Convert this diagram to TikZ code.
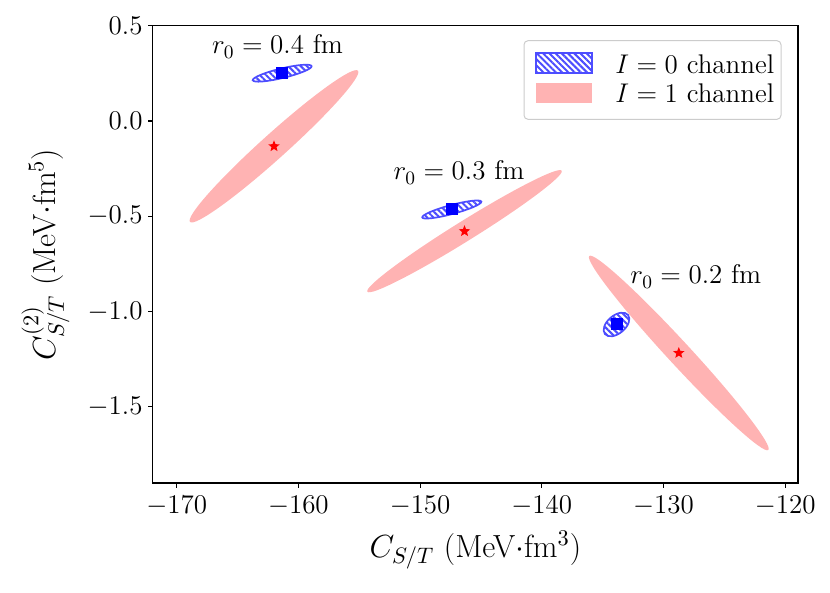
\documentclass[tikz,border=0pt]{standalone}
\usepackage{fix-cm}
\usetikzlibrary{shapes.geometric,patterns.meta}

\definecolor{pinkfill}{RGB}{255,179,179}
\definecolor{bluehatch}{RGB}{77,77,255}
\definecolor{legendgrey}{RGB}{204,204,204}

\tikzset{
  ticklabel/.style={font=\fontsize{13.5}{16}\selectfont, inner sep=0pt},
  annot/.style={font=\fontsize{13.5}{16}\selectfont, inner sep=0pt},
  axislabel/.style={font=\fontsize{16}{19}\selectfont, inner sep=0pt},
  redell/.style={fill=pinkfill},
  blueell/.style={draw=bluehatch, line width=0.85pt,
    pattern={Lines[angle=-45,distance=2.2pt,line width=1pt]}, pattern color=bluehatch},
  starmark/.style={star, star points=5, star point ratio=2.3, fill=red, draw=none,
    inner sep=0pt, minimum size=6pt},
  sqmark/.style={rectangle, fill=blue, draw=none, inner sep=0pt, minimum size=6pt}
}

\begin{document}
\begin{tikzpicture}[x=0.5pt,y=0.5pt]
    \useasboundingbox (0,0) rectangle (830,-593);

    % Mittelpunkte
    \coordinate (R1) at (274,-146.3);
    \coordinate (R2) at (464.5,-231.2);
    \coordinate (R3) at (678.8,-353);
    \coordinate (B1) at (282.2,-73.2);
    \coordinate (B2) at (451.8,-209.5);
    \coordinate (B3) at (616.5,-324.5);

    % Ellipsen I=1
    \fill[redell, rotate around={42:(R1)}] (R1) ellipse (113 and 12.5);
    \fill[redell, rotate around={31.9:(R2)}] (R2) ellipse (114.5 and 10);
    \fill[redell, rotate around={-47.3:(R3)}] (R3) ellipse (132 and 11.5);

    % Ellipsen I=0
    \draw[blueell, rotate around={13.5:(B1)}] (B1) ellipse (30.3 and 4.8);
    \draw[blueell, rotate around={15:(B2)}] (B2) ellipse (30.6 and 4.5);
    \draw[blueell, rotate around={40:(B3)}] (B3) ellipse (15 and 9);

    % Marker
    \node[starmark] (s1) at (R1) {};
    \node[starmark] (s2) at (R2) {};
    \node[starmark] (s3) at (R3) {};
    \node[sqmark] (q1) at (B1) {};
    \node[sqmark] (q2) at (B2) {};
    \node[sqmark] (q3) at (B3) {};

    % Beschriftung
    \node[annot, anchor=base] (r04) at (277.5,-54) {$r_0 = 0.4$ fm};
    \node[annot, anchor=base] (r03) at (459,-180) {$r_0 = 0.3$ fm};
    \node[annot, anchor=base] (r02) at (695.8,-284) {$r_0 = 0.2$ fm};

    % Achsen
    \draw[line width=0.7pt] (152.7,-25.7) rectangle (798,-483);
    \foreach \v in {-170,-160,...,-120}
        \draw[line width=0.6pt] ({176.7+(\v+170)*12.17},-483) -- ++(0,-5)
            node[ticklabel, below=3.5pt] {$\v$};
    \foreach \v/\t in {0.5/0.5,0/0.0,-0.5/-0.5,-1/-1.0,-1.5/-1.5}
        \draw[line width=0.6pt] (152.7,{-121+(\v)*190.5}) -- ++(-5,0)
            node[ticklabel, left=2.3pt] {$\t$};
    \node[axislabel, anchor=base] (xlab) at (475.4,-557.3) {$C_{S/T}$ (MeV$\cdot$fm$^3$)};
    \node[axislabel, rotate=90, anchor=base] (ylab) at (55,-254.4) {$C^{(2)}_{S/T}$ (MeV$\cdot$fm$^5$)};

    % Legende
    \draw[legendgrey, line width=0.5pt, rounded corners=2pt, fill=white]
        (524,-40.7) rectangle (781,-119.3);
    \draw[blueell] (535.7,-52.7) rectangle (592,-73.3);
    \fill[redell] (535.7,-83.3) rectangle (592,-102.7);
    \node[annot, anchor=base west] (leg0) at (615,-74) {$I = 0$ channel};
    \node[annot, anchor=base west] (leg1) at (615,-102.7) {$I = 1$ channel};
\end{tikzpicture}
\end{document}
